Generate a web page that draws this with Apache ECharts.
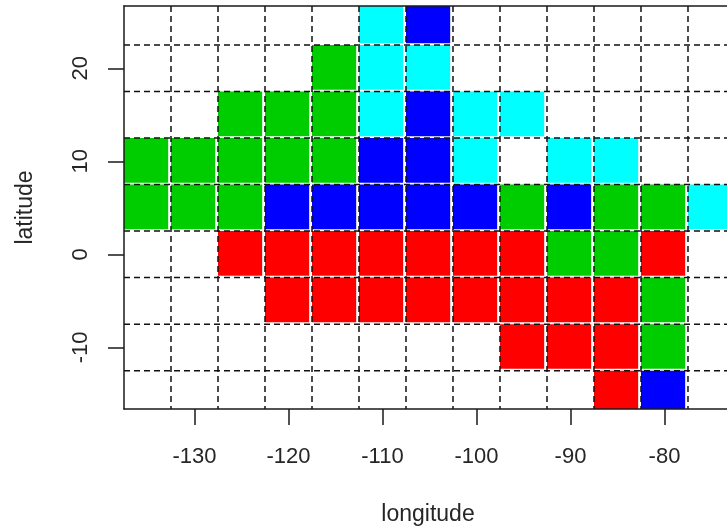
<!DOCTYPE html>
<html>
<head>
<meta charset="utf-8">
<style>html,body{margin:0;padding:0;background:#fff;overflow:hidden}#c{width:727px;height:529px;overflow:hidden}</style>
<script src="https://cdn.jsdelivr.net/npm/echarts@6/dist/echarts.min.js"></script>
</head>
<body>
<div id="c"></div>
<script>
var longitudes = [-135,-130,-125,-120,-115,-110,-105,-100,-95,-90,-85,-80,-75];
var latitudes = [25,20,15,10,5,0,-5,-10,-15];
var classColors = {G:'#00CD00',C:'#00FFFF',B:'#0000FF',R:'#FF0000'};
var row25  = ['','','','','','C','B','','','','','',''];
var row20  = ['','','','','G','C','C','','','','','',''];
var row15  = ['','','G','G','G','C','B','C','C','','','',''];
var row10  = ['G','G','G','G','G','B','B','C','','C','C','',''];
var row5   = ['G','G','G','B','B','B','B','B','G','B','G','G','C'];
var row0   = ['','','R','R','R','R','R','R','R','G','G','R',''];
var rowM5  = ['','','','R','R','R','R','R','R','R','R','G',''];
var rowM10 = ['','','','','','','','','R','R','R','G',''];
var rowM15 = ['','','','','','','','','','','R','B',''];
var rows = [row25,row20,row15,row10,row5,row0,rowM5,rowM10,rowM15];
var gridLons = [-132.5,-127.5,-122.5,-117.5,-112.5,-107.5,-102.5,-97.5,-92.5,-87.5,-82.5,-77.5];
var gridLats = [22.5,17.5,12.5,7.5,2.5,-2.5,-7.5,-12.5];
var xTicks = [-130,-120,-110,-100,-90,-80];
var yTicks = [-10,0,10,20];

var xMin=-137.5,xMax=-73.35,yMin=-16.62,yMax=26.69;
var ink='#1a1a1a', textInk='#262626', fontFamily='"Liberation Sans",Arial,sans-serif', fs=22, nameFs=23;

var cells=[];
rows.forEach(function(r,i){r.forEach(function(k,j){if(k)cells.push([longitudes[j],latitudes[i],k]);});});
var lines=[];
gridLons.forEach(function(v){lines.push([v,'v']);});
gridLats.forEach(function(v){lines.push([v,'h']);});

var chart=echarts.init(document.getElementById('c'),null,{renderer:'canvas'});
chart.setOption({
  animation:false,
  backgroundColor:'#fff',
  grid:{left:124,top:6,width:603,height:403,containLabel:false,outerBoundsMode:'none'},
  xAxis:[{
    type:'value',min:xMin,max:xMax,position:'bottom',z:5,
    name:'longitude',nameLocation:'middle',nameGap:94,
    nameTextStyle:{fontFamily:fontFamily,fontSize:nameFs,color:textInk,padding:[0,0,0,5]},
    splitLine:{show:false},
    axisLine:{show:true,onZero:false,lineStyle:{color:ink,width:1.5}},
    axisTick:{show:true,length:16,customValues:xTicks,lineStyle:{color:ink,width:1.5}},
    axisLabel:{show:true,customValues:xTicks,margin:37,fontFamily:fontFamily,fontSize:fs,color:textInk,hideOverlap:false,
      formatter:function(v){return String(v);}}
  },{
    type:'value',min:xMin,max:xMax,position:'top',z:5,
    splitLine:{show:false},
    axisLine:{show:true,onZero:false,lineStyle:{color:ink,width:1.5}},
    axisTick:{show:false},axisLabel:{show:false}
  }],
  yAxis:[{
    type:'value',min:yMin,max:yMax,position:'left',z:5,
    name:'latitude',nameLocation:'middle',nameGap:87,nameRotate:90,
    nameTextStyle:{fontFamily:fontFamily,fontSize:nameFs,color:textInk},
    splitLine:{show:false},
    axisLine:{show:true,onZero:false,lineStyle:{color:ink,width:1.5}},
    axisTick:{show:true,length:16,customValues:yTicks,lineStyle:{color:ink,width:1.5}},
    axisLabel:{show:true,customValues:yTicks,margin:32,rotate:90,fontFamily:fontFamily,fontSize:fs,color:textInk,hideOverlap:false,
      formatter:function(v){return String(v);}}
  }],
  series:[{
    type:'custom',coordinateSystem:'cartesian2d',clip:true,z:2,silent:true,
    data:cells,
    encode:{x:0,y:1},
    renderItem:function(params,api){
      var lon=api.value(0),lat=api.value(1);
      var a=api.coord([lon-2.5,lat+2.5]),b=api.coord([lon+2.2,lat-2.3]);
      return {type:'rect',shape:{x:a[0],y:a[1],width:b[0]-a[0],height:b[1]-a[1]},
        style:{fill:classColors[cells[params.dataIndex][2]]}};
    }
  },{
    type:'custom',coordinateSystem:'cartesian2d',clip:true,z:3,silent:true,
    data:lines,
    encode:{x:0},
    renderItem:function(params,api){
      var l=lines[params.dataIndex],p,q;
      if(l[1]==='v'){p=api.coord([l[0],yMax]);q=api.coord([l[0],yMin]);}
      else{p=api.coord([xMin,l[0]]);q=api.coord([xMax,l[0]]);}
      return {type:'line',shape:{x1:p[0],y1:p[1],x2:q[0],y2:q[1]},
        style:{stroke:'#111',lineWidth:1.5,lineDash:[6,4],fill:null}};
    }
  }]
});
</script>
</body>
</html>
